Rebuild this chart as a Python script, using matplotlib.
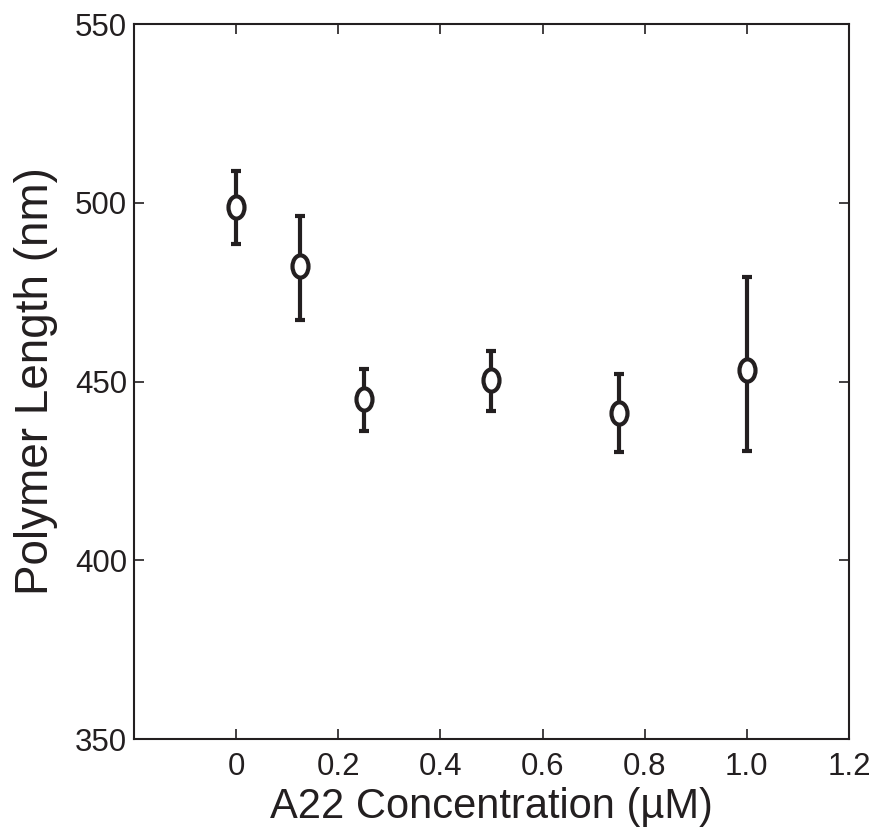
import numpy as np
import matplotlib.pyplot as plt
from matplotlib.markers import MarkerStyle
from matplotlib.transforms import Affine2D

plt.rcParams['font.family'] = ['Liberation Sans', 'DejaVu Sans']

# A22 concentration (uM) and polymer length (nm)
conc = [0.0, 0.125, 0.25, 0.5, 0.75, 1.0]
length = [498.7, 482.4, 445.0, 450.3, 441.1, 453.2]
err_hi = [509.0, 496.4, 453.4, 458.5, 452.1, 479.1]
err_lo = [488.5, 467.3, 436.2, 441.7, 430.4, 430.6]

xticks = [0, 0.2, 0.4, 0.6, 0.8, 1.0, 1.2]
xticklabels = ['0', '0.2', '0.4', '0.6', '0.8', '1.0', '1.2']
yticks = [350, 400, 450, 500, 550]

ink = '#231f20'

length = np.array(length)
yerr = [length - np.array(err_lo), np.array(err_hi) - length]

fig = plt.figure(figsize=(8.71, 8.31), dpi=100)
ax = fig.add_axes([0.1538, 0.1107, 0.8209, 0.8604])

oval = MarkerStyle('o', transform=Affine2D().scale(0.72, 1.0))
ax.errorbar(conc, length, yerr=yerr, fmt='none', ecolor=ink,
            elinewidth=3.0, capsize=3.8, capthick=3.0, zorder=2)
ax.plot(conc, length, linestyle='none', marker=oval, markersize=16,
        markerfacecolor='white', markeredgecolor=ink, markeredgewidth=3.0,
        zorder=3)

ax.set_xlim(-0.2, 1.2)
ax.set_ylim(350, 550)
ax.set_xticks(xticks)
ax.set_xticklabels(xticklabels)
ax.set_yticks(yticks)
ax.tick_params(direction='in', length=7, width=1.2, color=ink,
               labelsize=22.5, labelcolor=ink, top=True, right=True)
ax.tick_params(axis='x', pad=9)
ax.tick_params(axis='y', pad=5)
for s in ax.spines.values():
    s.set_linewidth(1.5)
    s.set_color(ink)

ax.set_xlabel('A22 Concentration (\u00b5M)', fontsize=30, color=ink, labelpad=4)
ax.set_ylabel('Polymer Length (nm)', fontsize=33, color=ink, labelpad=12)

fig.savefig('out.png', dpi=100)
